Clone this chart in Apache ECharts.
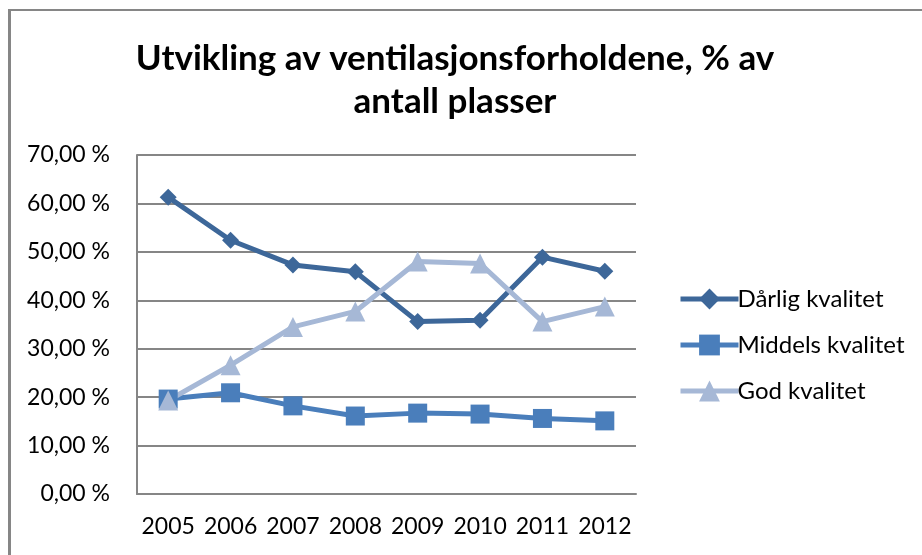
<!DOCTYPE html>
<html>
<head>
<meta charset="utf-8">
<script src="https://cdn.jsdelivr.net/npm/echarts@6/dist/echarts.min.js"></script>
<style>
  html, body { margin: 0; padding: 0; background: #fff; }
  #wrap { position: relative; width: 922px; height: 555px; overflow: hidden; }
  #frame { position: absolute; left: 8px; top: 9px; width: 1000px; height: 700px;
           border-left: 3px solid #868686; border-top: 2px solid #868686; }
  #chart { position: absolute; left: 0; top: 0; width: 922px; height: 555px; }
</style>
</head>
<body>
<div id="wrap">
  <div id="frame"></div>
  <div id="chart"></div>
</div>
<script>
// data
const years = ['2005', '2006', '2007', '2008', '2009', '2010', '2011', '2012'];
const darlig = [61.3, 52.4, 47.3, 45.9, 35.6, 35.9, 48.9, 46.0];
const middels = [19.6, 20.9, 18.2, 16.1, 16.7, 16.5, 15.6, 15.1];
const god = [19.3, 26.6, 34.5, 37.7, 48.0, 47.6, 35.6, 38.7];
const seriesNames = ['Dårlig kvalitet', 'Middels kvalitet', 'God kvalitet'];

const font = 'Lato, "Open Sans", sans-serif';

function pct(v) {
  return v.toFixed(2).replace('.', ',') + ' %';
}

const myChart = echarts.init(document.getElementById('chart'), null, { renderer: 'canvas' });

const option = {
  animation: false,
  backgroundColor: 'transparent',
  title: {
    text: 'Utvikling av ventilasjonsforholdene, % av\nantall plasser',
    left: 450,
    textAlign: 'center',
    top: 32,
    textStyle: {
      fontFamily: font,
      fontWeight: 'bold',
      fontSize: 35,
      lineHeight: 43,
      color: '#000'
    }
  },
  legend: {
    orient: 'vertical',
    left: 673,
    top: 282,
    itemWidth: 58,
    itemHeight: 26,
    itemGap: 22,
    lineStyle: { width: 5 },
    textStyle: { fontFamily: font, fontSize: 24, color: '#000', padding: [0, 0, 0, -6] },
    data: seriesNames
  },
  grid: { left: 137, right: 286, top: 155, bottom: 61 },
  xAxis: {
    type: 'category',
    data: years,
    boundaryGap: true,
    axisLine: { lineStyle: { color: '#868686', width: 2 } },
    axisTick: { show: false },
    axisLabel: { interval: 0, fontFamily: font, fontSize: 23, color: '#000', margin: 21 }
  },
  yAxis: {
    type: 'value',
    min: 0,
    max: 70,
    interval: 10,
    axisLine: { show: true, lineStyle: { color: '#868686', width: 2 } },
    axisTick: { show: false },
    splitLine: { lineStyle: { color: '#868686', width: 2 } },
    axisLabel: { fontFamily: font, fontSize: 23, color: '#000', margin: 27, formatter: pct }
  },
  series: [
    {
      name: seriesNames[0],
      type: 'line',
      data: darlig,
      color: '#3D6799',
      lineStyle: { width: 5 },
      symbol: 'diamond',
      symbolSize: 17
    },
    {
      name: seriesNames[1],
      type: 'line',
      data: middels,
      color: '#4A7EBB',
      lineStyle: { width: 5 },
      symbol: 'rect',
      symbolSize: 19
    },
    {
      name: seriesNames[2],
      type: 'line',
      data: god,
      color: '#A6B8D6',
      lineStyle: { width: 5 },
      symbol: 'triangle',
      symbolSize: 20
    }
  ]
};

myChart.setOption(option);
</script>
</body>
</html>
